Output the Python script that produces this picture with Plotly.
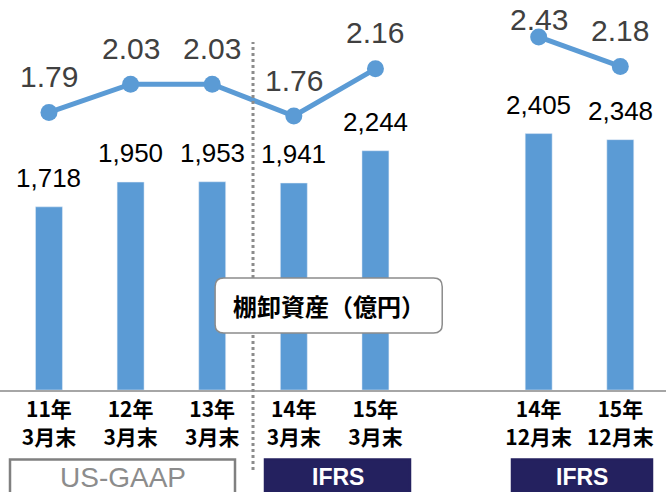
import plotly.graph_objects as go

# data
categories = ["11年<br>3月末", "12年<br>3月末", "13年<br>3月末", "14年<br>3月末",
              "15年<br>3月末", "", "14年<br>12月末", "15年<br>12月末"]
inventory = [1718, 1950, 1953, 1941, 2244, None, 2405, 2348]      # 億円
turnover = [1.79, 2.03, 2.03, 1.76, 2.16, None, 2.43, 2.18]        # ヶ月
inventory_label = "棚卸資産（億円）"
standards = ["US-GAAP", "IFRS", "IFRS"]

BLUE = "#5B9BD5"
NAVY = "#24215F"
x = list(range(len(categories)))

fig = go.Figure()
fig.add_trace(go.Bar(
    x=x, y=inventory, marker_color=BLUE, width=0.33, hoverinfo="skip",
))
fig.add_trace(go.Scatter(
    x=x, y=turnover, yaxis="y2", mode="lines+markers",
    line=dict(color=BLUE, width=5), marker=dict(size=17, color=BLUE),
    connectgaps=False, hoverinfo="skip",
))

# value labels
for xi, v in zip(x, inventory):
    if v is None:
        continue
    fig.add_annotation(x=xi, y=v, yshift=29, text=f"{v:,}", showarrow=False,
                       font=dict(family="Liberation Sans, Arial", size=26, color="#000000"))
for xi, v in zip(x, turnover):
    if v is None:
        continue
    fig.add_annotation(x=xi, y=min(v + 0.305, 2.58), yref="y2", text=f"{v:.2f}",
                       showarrow=False,
                       font=dict(family="Liberation Sans, Arial", size=30, color="#404040"))

# dotted separator between US-GAAP and IFRS
fig.add_shape(type="line", xref="x", yref="paper", x0=2.5, x1=2.5, y0=-0.205, y1=0.892,
              line=dict(color="#8C8C8C", width=3, dash="dot"))

# rounded label box
bx0, bx1, by0, by1 = 0.323, 0.664, 0.146, 0.287
rx, ry = 0.013, 0.022
path = (f"M {bx0+rx},{by0} L {bx1-rx},{by0} Q {bx1},{by0} {bx1},{by0+ry} "
        f"L {bx1},{by1-ry} Q {bx1},{by1} {bx1-rx},{by1} L {bx0+rx},{by1} "
        f"Q {bx0},{by1} {bx0},{by1-ry} L {bx0},{by0+ry} Q {bx0},{by0} {bx0+rx},{by0} Z")
fig.add_shape(type="path", xref="paper", yref="paper", path=path,
              fillcolor="white", line=dict(color="#8C8C8C", width=1.5), layer="above")
fig.add_annotation(xref="paper", yref="paper", x=(bx0 + bx1) / 2, y=(by0 + by1) / 2,
                   xanchor="center", yanchor="middle",
                   text=f"<b>{inventory_label}</b>", showarrow=False,
                   font=dict(family="Noto Sans CJK JP", size=24, color="#000000"))

# accounting standard boxes
boxes = [(10, 235), (265, 410), (512, 652)]
for (px0, px1), name in zip(boxes, standards):
    is_gaap = name == "US-GAAP"
    fig.add_shape(type="rect", xref="paper", yref="paper",
                  x0=px0 / 666, x1=px1 / 666, y0=-0.28, y1=-0.178,
                  fillcolor="white" if is_gaap else NAVY,
                  line=dict(color="#808080" if is_gaap else NAVY, width=2.5))
    fig.add_annotation(xref="paper", yref="paper", x=(px0 + px1) / 2 / 666, y=-0.224,
                       xanchor="center", yanchor="middle",
                       text=name if is_gaap else f"<b>{name}</b>", showarrow=False,
                       font=dict(family="Liberation Sans Narrow, Liberation Sans",
                                 size=28 if is_gaap else 23,
                                 color="#8C8C8C" if is_gaap else "white"))

fig.update_layout(
    width=666, height=492,
    margin=dict(l=0, r=0, t=0, b=102),
    plot_bgcolor="white", paper_bgcolor="white",
    showlegend=False,
    xaxis=dict(range=[-0.6, 7.56], tickvals=x, ticktext=[f"<b>{c}</b>" for c in categories],
               tickfont=dict(family="Noto Sans CJK JP", size=21, color="#000000"),
               showline=True, linecolor="#A6A6A6", linewidth=2, ticks="",
               showgrid=False, zeroline=False),
    yaxis=dict(range=[0, 3658], visible=False),
    yaxis2=dict(range=[-0.562, 2.743], overlaying="y", visible=False),
)

fig.write_html("out.html", config={"displayModeBar": False},
               post_script="document.body.style.margin='0';")
